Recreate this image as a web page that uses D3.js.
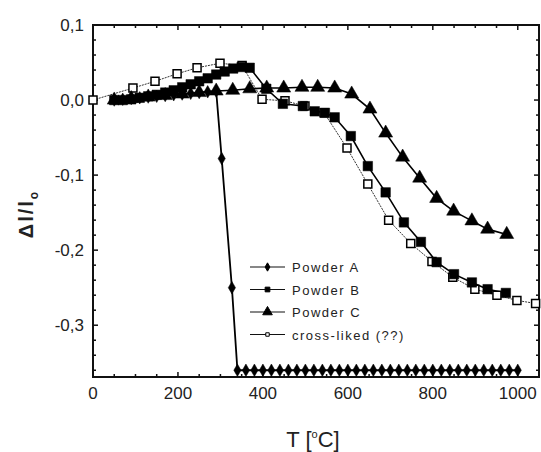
<!DOCTYPE html>
<html>
<head>
<meta charset="utf-8">
<script src="https://cdn.jsdelivr.net/npm/d3@7"></script>
<style>
  body { margin: 0; background: #fff; }
  text { font-family: "Liberation Sans", Arial, sans-serif; fill: #222; }
</style>
</head>
<body>
<div id="chart"></div>
<script>
// temperatures [°C] and relative length change
const tempA = [50, 70, 90, 110, 130, 150, 170, 190, 210, 230, 250, 270, 290, 303, 327,
  340, 360, 380, 400, 420, 440, 460, 480, 500, 520, 540, 560, 580, 600, 620, 640, 660,
  680, 700, 720, 740, 760, 780, 800, 820, 840, 860, 880, 900, 920, 940, 960, 980, 1000];
const valA = [0, 0.001, 0.002, 0.003, 0.004, 0.005, 0.006, 0.007, 0.008, 0.009, 0.01, 0.011, 0.012, -0.078, -0.25,
  -0.36, -0.36, -0.36, -0.36, -0.36, -0.36, -0.36, -0.36, -0.36, -0.36, -0.36, -0.36, -0.36, -0.36, -0.36, -0.36, -0.36,
  -0.36, -0.36, -0.36, -0.36, -0.36, -0.36, -0.36, -0.36, -0.36, -0.36, -0.36, -0.36, -0.36, -0.36, -0.36, -0.36, -0.36];

const tempB = [50, 70, 90, 110, 130, 150, 170, 190, 210, 230, 250, 270, 290, 310, 330, 350, 369,
  408, 447, 494, 522, 546, 569, 607, 647, 689, 732, 772, 809, 850, 892, 929, 972];
const valB = [0, 0, 0.001, 0.003, 0.005, 0.007, 0.01, 0.013, 0.017, 0.021, 0.025, 0.029, 0.034, 0.038, 0.042, 0.044, 0.043,
  0.015, -0.005, -0.008, -0.015, -0.017, -0.023, -0.048, -0.088, -0.123, -0.163, -0.189, -0.216, -0.232, -0.243, -0.252, -0.257];

const tempC = [50, 90, 130, 170, 210, 250, 290, 329, 369, 409, 449, 492, 529, 569, 609, 652, 689,
  729, 769, 809, 849, 892, 929, 974];
const valC = [0, 0.002, 0.004, 0.006, 0.008, 0.01, 0.012, 0.013, 0.015, 0.016, 0.016, 0.017, 0.017, 0.016, 0.008, -0.012, -0.044,
  -0.076, -0.104, -0.131, -0.148, -0.161, -0.172, -0.179];

const tempX = [0, 94, 146, 198, 245, 299, 351, 398, 452, 499, 544, 598, 647, 696, 748, 798, 847, 899, 951, 998, 1042];
const valX = [0, 0.016, 0.025, 0.035, 0.043, 0.049, 0.046, 0.001, -0.001, -0.008, -0.017, -0.064, -0.112, -0.160, -0.191,
  -0.215, -0.236, -0.252, -0.260, -0.267, -0.271];

const seriesNames = ["Powder A", "Powder B", "Powder C", "cross-liked (??)"];
const xTicks = [0, 200, 400, 600, 800, 1000];
const yTicks = [0.1, 0.0, -0.1, -0.2, -0.3];

const width = 541, height = 452;
const margin = { top: 25, right: 2, bottom: 75, left: 93 };

const x = d3.scaleLinear().domain([0, 1050]).range([margin.left, width - margin.right]);
const y = d3.scaleLinear().domain([-0.369, 0.1]).range([height - margin.bottom, margin.top]);

const svg = d3.select("#chart").append("svg")
  .attr("width", width)
  .attr("height", height);

const fmt = v => d3.format(".1f")(v).replace(".", ",").replace("−", "-");

// frame with inward ticks on all four sides
const x0 = x.range()[0], x1 = x.range()[1], y0 = y.range()[0], y1 = y.range()[1];
const xMinor = d3.range(0, 1051, 50);
const yMinor = d3.range(-36, 11, 2).map(v => v / 100);

const axes = svg.append("g").attr("stroke", "#111").attr("fill", "none");
axes.append("rect")
  .attr("x", x0).attr("y", y1)
  .attr("width", x1 - x0).attr("height", y0 - y1)
  .attr("stroke-width", 2);

xMinor.forEach(v => {
  const len = v % 200 === 0 ? 5 : 3;
  axes.append("line").attr("x1", x(v)).attr("x2", x(v)).attr("y1", y0).attr("y2", y0 - len).attr("stroke-width", 1.5);
  axes.append("line").attr("x1", x(v)).attr("x2", x(v)).attr("y1", y1).attr("y2", y1 + len).attr("stroke-width", 1.5);
});
yMinor.forEach(v => {
  const len = Math.abs(Math.round(v * 100)) % 10 === 0 ? 5 : 3;
  axes.append("line").attr("y1", y(v)).attr("y2", y(v)).attr("x1", x0).attr("x2", x0 + len).attr("stroke-width", 1.5);
  axes.append("line").attr("y1", y(v)).attr("y2", y(v)).attr("x1", x1).attr("x2", x1 - len).attr("stroke-width", 1.5);
});

svg.append("g").selectAll("text")
  .data(xTicks).join("text")
  .attr("x", d => x(d))
  .attr("y", y0 + 22)
  .attr("text-anchor", "middle")
  .attr("font-size", 17)
  .text(d => d);

svg.append("g").selectAll("text")
  .data(yTicks).join("text")
  .attr("x", x0 - 9)
  .attr("y", d => y(d) + 6)
  .attr("text-anchor", "end")
  .attr("font-size", 17)
  .text(d => fmt(d));

// axis titles
const xt = svg.append("text")
  .attr("x", 313)
  .attr("y", 447)
  .attr("text-anchor", "middle")
  .attr("font-size", 22);
xt.append("tspan").text("T [");
xt.append("tspan").attr("font-size", 11).attr("dy", -9).text("o");
xt.append("tspan").attr("dy", 9).text("C]");

const yt = svg.append("text")
  .attr("transform", "translate(33,214) rotate(-90)")
  .attr("text-anchor", "middle")
  .attr("font-size", 20)
  .attr("font-weight", "bold")
  .attr("letter-spacing", 2);
yt.append("tspan").text("Δl/l");
yt.append("tspan").attr("font-size", 12).attr("dy", 5).text("o");

// series
const line = d3.line().x(d => x(d[0])).y(d => y(d[1]));
const zip = (t, v) => t.map((d, i) => [d, v[i]]);

const series = [
  { data: zip(tempX, valX), sym: d3.symbolSquare, size: 64, fill: "#fff", lw: 1, dash: "2,1", stroke: "#333" },
  { data: zip(tempA, valA), sym: d3.symbolDiamond, size: 45, fill: "#000", lw: 1.8, dash: null, stroke: "#000" },
  { data: zip(tempB, valB), sym: d3.symbolSquare, size: 90, fill: "#000", lw: 1.6, dash: null, stroke: "#000" },
  { data: zip(tempC, valC), sym: d3.symbolTriangle, size: 85, fill: "#000", lw: 1.6, dash: null, stroke: "#000" }
];

const plot = svg.append("g");
series.forEach(s => {
  plot.append("path")
    .datum(s.data)
    .attr("d", line)
    .attr("fill", "none")
    .attr("stroke", s.stroke)
    .attr("stroke-width", s.lw)
    .attr("stroke-dasharray", s.dash);
});
series.forEach(s => {
  plot.selectAll(null)
    .data(s.data).join("path")
    .attr("transform", d => `translate(${x(d[0])},${y(d[1])})`)
    .attr("d", d3.symbol().type(s.sym).size(s.size))
    .attr("fill", s.fill)
    .attr("stroke", "#000")
    .attr("stroke-width", s.fill === "#fff" ? 1.5 : 0.5);
});

// legend
const legendRows = [
  { sym: d3.symbolDiamond, size: 20, fill: "#000" },
  { sym: d3.symbolSquare, size: 22, fill: "#000" },
  { sym: d3.symbolTriangle, size: 40, fill: "#000" },
  { sym: d3.symbolSquare, size: 12, fill: "#fff" }
];
const legend = svg.append("g");
legendRows.forEach((r, i) => {
  const ly = 267 + i * 22.5;
  legend.append("line")
    .attr("x1", 250).attr("x2", 285).attr("y1", ly).attr("y2", ly)
    .attr("stroke", "#111").attr("stroke-width", 1.2);
  legend.append("path")
    .attr("transform", `translate(267.5,${ly})`)
    .attr("d", d3.symbol().type(r.sym).size(r.size))
    .attr("fill", r.fill)
    .attr("stroke", "#000")
    .attr("stroke-width", 1);
  legend.append("text")
    .attr("x", 292)
    .attr("y", ly + 5)
    .attr("font-size", 13)
    .attr("letter-spacing", 1.5)
    .text(seriesNames[i]);
});
</script>
</body>
</html>
